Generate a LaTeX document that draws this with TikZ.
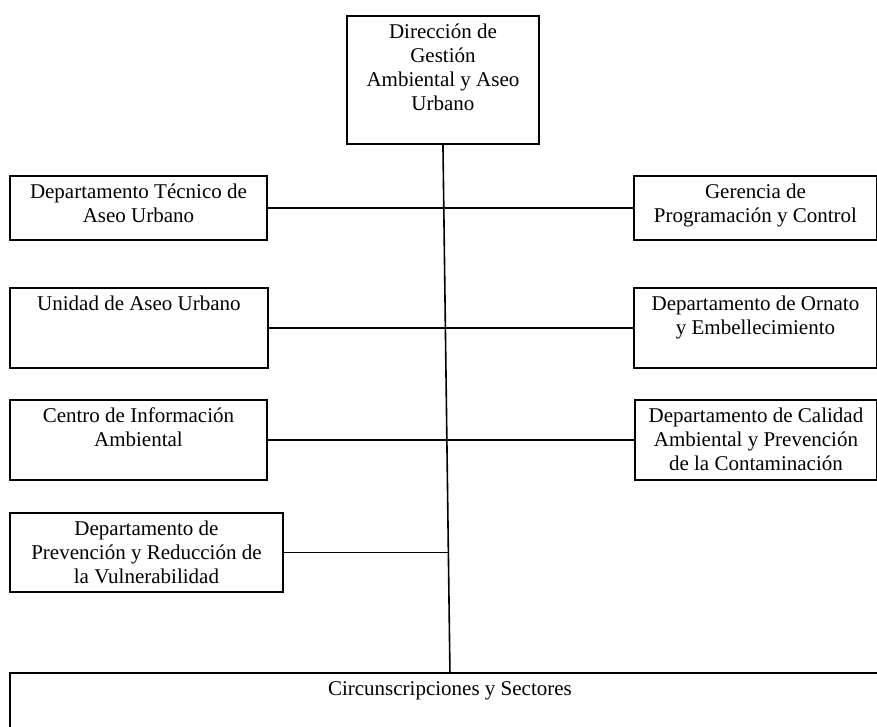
\documentclass[tikz,border=0pt]{standalone}
\usepackage{fontspec}
\setmainfont{Liberation Serif}
\usetikzlibrary{calc}
\newcommand{\bxtext}[3]{\parbox[c][#2][t]{#1}{\centering\rule{0pt}{23pt}#3\par}}
\begin{document}
\begin{tikzpicture}[x=1pt,y=1pt,
  box/.style={draw, line width=1.9pt, inner sep=0pt, anchor=north west,
              font=\fontsize{21}{24}\selectfont},
  conn/.style={line width=1.6pt}]
\useasboundingbox (0,0) rectangle (877,-726);
\clip (0,0) rectangle (877,-726);
% top
\node[box] (dir) at (346,-15) {\bxtext{192pt}{128pt}{Dirección de\\Gestión\\Ambiental y Aseo\\Urbano}};
% left column
\node[box] (tec) at (9,-175) {\bxtext{257pt}{64pt}{Departamento Técnico de\\Aseo Urbano}};
\node[box] (uni) at (9,-287) {\bxtext{258pt}{80pt}{Unidad de Aseo Urbano}};
\node[box] (cen) at (9,-399) {\bxtext{257pt}{80pt}{Centro de Información\\Ambiental}};
\node[box] (pre) at (9,-512) {\bxtext{273pt}{79pt}{Departamento de\\Prevención y Reducción de\\la Vulnerabilidad}};
% right column
\node[box] (ger) at (633,-175) {\bxtext{243pt}{64pt}{Gerencia de\\Programación y Control}};
\node[box] (orn) at (633,-287) {\bxtext{243pt}{80pt}{Departamento de Ornato\\y Embellecimiento}};
\node[box] (cal) at (634,-399) {\bxtext{242pt}{80pt}{Departamento de Calidad\\Ambiental y Prevención\\de la Contaminación}};
% bottom
\node[box] (cir) at (9,-672) {\bxtext{880pt}{90pt}{Circunscripciones y Sectores}};
% connectors
\draw[conn] (dir.south) -- (cir.north);
\draw[conn] (tec.east) -- (ger.west);
\draw[conn] (uni.east) -- (orn.west);
\draw[conn] (cen.east) -- (cal.west);
\coordinate (foot) at ($(dir.south)!(pre.east)!(cir.north)$);
\draw[conn] (pre.east) -- (pre.east -| foot);
\end{tikzpicture}
\end{document}
